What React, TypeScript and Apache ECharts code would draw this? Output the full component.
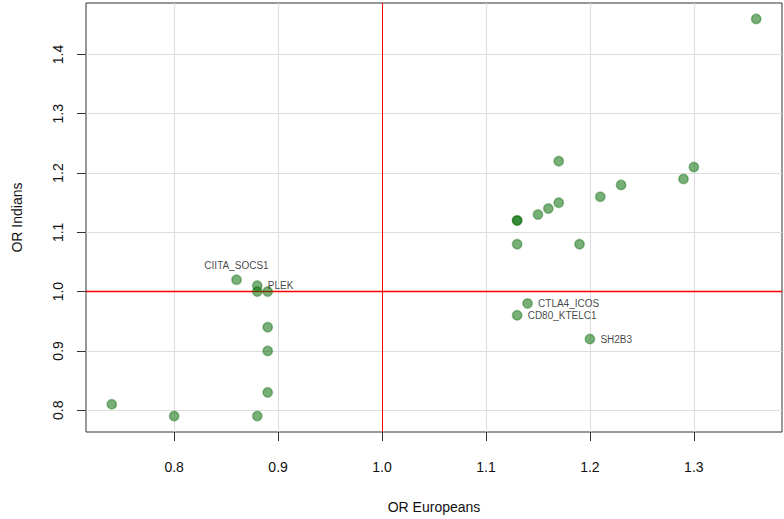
import React, { useEffect, useRef } from "react";
import * as echarts from "echarts";

const orEuropeans = [0.74, 0.80, 0.86, 0.88, 0.88, 0.89, 0.89, 0.89, 0.89, 0.88, 1.13, 1.13, 1.13, 1.15, 1.16, 1.17, 1.17, 1.19, 1.21, 1.23, 1.29, 1.30, 1.36, 1.14, 1.13, 1.20];
const orIndians = [0.81, 0.79, 1.02, 1.01, 1.00, 1.00, 0.94, 0.90, 0.83, 0.79, 1.12, 1.12, 1.08, 1.13, 1.14, 1.15, 1.22, 1.08, 1.16, 1.18, 1.19, 1.21, 1.46, 0.98, 0.96, 0.92];
const pointLabels = ["", "", "CIITA_SOCS1", "PLEK", "", "", "", "", "", "", "", "", "", "", "", "", "", "", "", "", "", "", "", "CTLA4_ICOS", "CD80_KTELC1", "SH2B3"];
const xTicks = [0.8, 0.9, 1.0, 1.1, 1.2, 1.3];
const yTicks = [0.8, 0.9, 1.0, 1.1, 1.2, 1.3, 1.4];
const refX = 1.0;
const refY = 1.0;

const labelPlacement: Record<string, string> = {
  CIITA_SOCS1: "top",
};

export default function App() {
  const ref = useRef<HTMLDivElement>(null);
  useEffect(() => {
    document.body.style.margin = "0";
    const chart = echarts.init(ref.current!, null, { renderer: "svg" });
    const xMin = Math.min(...orEuropeans), xMax = Math.max(...orEuropeans);
    const yMin = Math.min(...orIndians), yMax = Math.max(...orIndians);
    const xPad = (xMax - xMin) * 0.04, yPad = (yMax - yMin) * 0.04;
    const xLo = xMin - xPad, xHi = xMax + xPad, yLo = yMin - yPad, yHi = yMax + yPad;
    const font = "Liberation Sans, Arial, Helvetica, sans-serif";
    const data = orEuropeans.map((x, i) => {
      const name = pointLabels[i];
      const item: any = { value: [x, orIndians[i]], name };
      if (name) {
        item.label = {
          show: true,
          formatter: name,
          position: labelPlacement[name] || "right",
          distance: labelPlacement[name] ? 4 : 5,
          fontSize: 10,
          fontFamily: font,
          color: "#111",
        };
      }
      return item;
    });
    chart.setOption({
      animation: false,
      backgroundColor: "#ffffff",
      grid: {
        left: 86, right: 2, top: 3, bottom: 87,
        show: true, borderColor: "#333333", borderWidth: 1,
        containLabel: false, outerBoundsMode: "none",
      },
      xAxis: {
        type: "value",
        min: xLo,
        max: xHi,
        name: "OR Europeans",
        nameLocation: "middle",
        nameGap: 68,
        nameTextStyle: { fontSize: 14, fontFamily: font, color: "#111" },
        axisLine: { show: false, onZero: false },
        axisTick: { show: true, length: 9, customValues: xTicks, lineStyle: { color: "#333" } },
        axisLabel: {
          customValues: xTicks, margin: 28, fontSize: 14, fontFamily: font, color: "#111",
          formatter: (v: number) => v.toFixed(1),
        },
        splitLine: { show: false },
      },
      yAxis: {
        type: "value",
        min: yLo,
        max: yHi,
        name: "OR Indians",
        nameLocation: "middle",
        nameGap: 62,
        nameRotate: 90,
        nameTextStyle: { fontSize: 14, fontFamily: font, color: "#111" },
        axisLine: { show: false, onZero: false },
        axisTick: { show: true, length: 9, customValues: yTicks, lineStyle: { color: "#333" } },
        axisLabel: {
          customValues: yTicks, margin: 21, fontSize: 14, fontFamily: font, color: "#111", rotate: 90,
          formatter: (v: number) => v.toFixed(1),
        },
        splitLine: { show: false },
      },
      series: [
        {
          type: "scatter",
          z: 1,
          data: [],
          markLine: {
            silent: true,
            symbol: "none",
            label: { show: false },
            lineStyle: { color: "#dddddd", width: 1, type: "solid" },
            data: [
              ...xTicks.filter((t) => t !== refX).map((t) => ({ xAxis: t })),
              ...yTicks.filter((t) => t !== refY).map((t) => ({ yAxis: t })),
            ],
          },
        },
        {
          type: "scatter",
          z: 50,
          data: [],
          markLine: {
            silent: true,
            symbol: "none",
            label: { show: false },
            lineStyle: { color: "#ff0000", width: 1, type: "solid" },
            data: [{ xAxis: refX }],
          },
        },
        {
          type: "line",
          z: 50,
          silent: true,
          symbol: "none",
          lineStyle: { color: "#ff0000", width: 1.5 },
          data: [[xLo, refY], [xHi, refY]],
        },
        {
          type: "scatter",
          z: 60,
          symbol: "circle",
          symbolSize: 9.5,
          itemStyle: {
            color: "rgba(0,105,0,0.66)",
            borderColor: "rgba(0,100,0,0.45)",
            borderWidth: 1.5,
          },
          data,
        },
      ],
    });
    return () => chart.dispose();
  }, []);
  return <div ref={ref} style={{ width: 784, height: 519 }} />;
}
